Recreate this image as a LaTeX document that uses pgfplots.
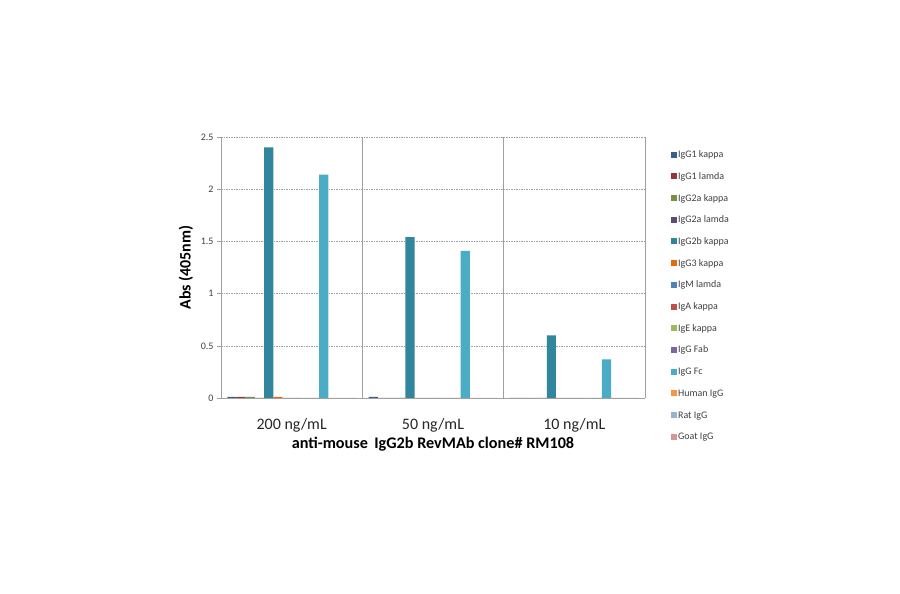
\documentclass[border=0pt]{standalone}
\usepackage{pgfplots}
\pgfplotsset{compat=1.18}
\usepackage{fontspec}
\setmainfont{Carlito}
\definecolor{c1}{HTML}{376092}
\definecolor{c2}{HTML}{953735}
\definecolor{c3}{HTML}{77933C}
\definecolor{c4}{HTML}{604A7B}
\definecolor{c5}{HTML}{31859C}
\definecolor{c6}{HTML}{E46C0A}
\definecolor{c7}{HTML}{4F81BD}
\definecolor{c8}{HTML}{C0504D}
\definecolor{c9}{HTML}{9BBB59}
\definecolor{c10}{HTML}{8064A2}
\definecolor{c11}{HTML}{4BACC6}
\definecolor{c12}{HTML}{F79646}
\definecolor{c13}{HTML}{95B3D7}
\definecolor{c14}{HTML}{D99694}
\definecolor{gridgray}{HTML}{A0A0A0}
\begin{document}
\begin{tikzpicture}
\path[use as bounding box] (0,0) rectangle (900pt,594pt);
\begin{axis}[
  at={(221pt,196pt)}, anchor=south west,
  scale only axis, width=424pt, height=261pt,
  ybar=0pt, bar width=0.065,
  every axis plot/.append style={draw=none,
    legend image code/.code={\fill[##1] (0pt,-2.5pt) rectangle (6pt,3.5pt);}},
  xmin=-0.5, xmax=2.5, ymin=0, ymax=2.5,
  axis x line*=bottom, axis y line*=left,
  axis line style={gridgray, line width=0.6pt},
  xtick={0,1,2},
  xticklabels={200 ng/mL, 50 ng/mL, 10 ng/mL},
  major x tick style={draw=none},
  minor xtick={0.5,1.5,2.5},
  xminorgrids, minor x grid style={gridgray, line width=0.6pt},
  minor x tick style={draw=none},
  ytick={0,0.5,1,1.5,2,2.5},
  yticklabels={0,0.5,1,1.5,2,2.5},
  ymajorgrids, major y grid style={gridgray, dash pattern=on 1.5pt off 1pt, line width=0.5pt},
  y tick style={gridgray}, major tick length=4pt,
  tick align=outside,
  /pgf/number format/assume math mode=true,
  xticklabel style={font=\fontsize{16}{18}\selectfont, text=black!85, anchor=center, yshift=-23pt},
  yticklabel style={font=\fontsize{10}{12}\selectfont, text=black!75},
  xlabel={\textbf{anti-mouse\, IgG2b RevMAb clone\# RM108}},
  xlabel style={font=\fontsize{16.2}{19}\selectfont, at={(axis description cs:0.5,-0.176)}, anchor=center},
  ylabel={\textbf{Abs (405nm)}},
  ylabel style={font=\fontsize{16}{19}\selectfont, at={(axis description cs:-0.083,0.5)}, anchor=center},
  legend cell align=left,
  legend style={draw=none, fill=none, at={(1.054,0.958)}, anchor=north west,
    font=\fontsize{10}{11}\selectfont, text=black!75,
    nodes={inner sep=1pt, text height=6.5pt, text depth=1.5pt},
    row sep=11.7pt},
]
\addplot[fill=c1, bar shift=-0.4225] coordinates {(0,0.01) (1,0.01) (2,0)};
\addplot[fill=c2, bar shift=-0.3575] coordinates {(0,0.01) (1,0) (2,0)};
\addplot[fill=c3, bar shift=-0.2925] coordinates {(0,0.01) (1,0) (2,0)};
\addplot[fill=c4, bar shift=-0.2275] coordinates {(0,0) (1,0) (2,0)};
\addplot[fill=c5, bar shift=-0.1625] coordinates {(0,2.40) (1,1.54) (2,0.60)};
\addplot[fill=c6, bar shift=-0.0975] coordinates {(0,0.01) (1,0) (2,0)};
\addplot[fill=c7, bar shift=-0.0325] coordinates {(0,0) (1,0) (2,0)};
\addplot[fill=c8, bar shift=0.0325] coordinates {(0,0) (1,0) (2,0)};
\addplot[fill=c9, bar shift=0.0975] coordinates {(0,0) (1,0) (2,0)};
\addplot[fill=c10, bar shift=0.1625] coordinates {(0,0) (1,0) (2,0)};
\addplot[fill=c11, bar shift=0.2275] coordinates {(0,2.14) (1,1.41) (2,0.37)};
\addplot[fill=c12, bar shift=0.2925] coordinates {(0,0) (1,0) (2,0)};
\addplot[fill=c13, bar shift=0.3575] coordinates {(0,0) (1,0) (2,0)};
\addplot[fill=c14, bar shift=0.4225] coordinates {(0,0) (1,0) (2,0)};
\legend{IgG1 kappa, IgG1 lamda, IgG2a kappa, IgG2a lamda, IgG2b kappa, IgG3 kappa, IgM lamda, IgA kappa, IgE kappa, IgG Fab, IgG Fc, Human IgG, Rat IgG, Goat IgG}
\end{axis}
\end{tikzpicture}
\end{document}
